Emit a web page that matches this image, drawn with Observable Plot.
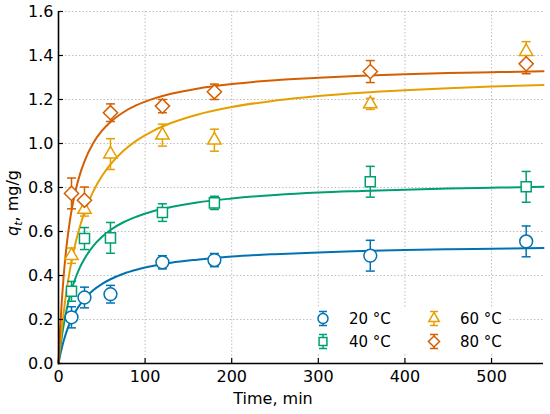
<!DOCTYPE html>
<html><head><meta charset="utf-8">
<script src="https://cdn.jsdelivr.net/npm/d3@7"></script>
<script src="https://cdn.jsdelivr.net/npm/@observablehq/plot@0.6"></script>
<style>body{margin:0;background:#fff}#chart{width:550px;height:414px}</style>
</head><body><div id="chart"></div>
<script>
// ---- data ----
const seriesLabels = ["20 °C", "40 °C", "60 °C", "80 °C"];
const colors = ["#0072B2", "#009E73", "#E69F00", "#D55E00"];
const symbolNames = ["circle", "square2", "triangle2", "diamond2"];

const times = [15, 30, 60, 120, 180, 360, 540];
const q20 = [0.21, 0.30, 0.315, 0.46, 0.47, 0.49, 0.555];
const e20 = [0.048, 0.047, 0.04, 0.03, 0.03, 0.07, 0.07];
const q40 = [0.328, 0.568, 0.571, 0.686, 0.73, 0.826, 0.803];
const e40 = [0.045, 0.05, 0.07, 0.04, 0.03, 0.07, 0.07];
const q60 = [0.49, 0.70, 0.952, 1.038, 1.015, 1.18, 1.418];
const e60 = [0.035, 0.03, 0.07, 0.05, 0.05, 0.025, 0.045];
const q80 = [0.773, 0.742, 1.14, 1.17, 1.235, 1.327, 1.362];
const e80 = [0.07, 0.06, 0.04, 0.03, 0.035, 0.05, 0.045];

// fitted curves
const fitT  = [0, 1, 2, 4, 6, 8, 10, 13, 16, 20, 25, 30, 40, 50, 60, 75, 90, 110, 130, 160, 200, 250, 300, 350, 400, 450, 500, 560];
const fit20 = [0, 0.020, 0.039, 0.073, 0.103, 0.129, 0.153, 0.183, 0.209, 0.239, 0.269, 0.294, 0.333, 0.361, 0.383, 0.408, 0.426, 0.444, 0.458, 0.472, 0.486, 0.497, 0.505, 0.511, 0.516, 0.519, 0.522, 0.525];
const fit40 = [0, 0.035, 0.068, 0.126, 0.175, 0.218, 0.256, 0.305, 0.346, 0.392, 0.439, 0.476, 0.534, 0.575, 0.607, 0.642, 0.667, 0.693, 0.711, 0.732, 0.750, 0.766, 0.777, 0.784, 0.790, 0.795, 0.799, 0.803];
const fit60 = [0, 0.046, 0.088, 0.166, 0.234, 0.295, 0.349, 0.421, 0.482, 0.553, 0.626, 0.687, 0.781, 0.851, 0.905, 0.967, 1.013, 1.059, 1.093, 1.131, 1.166, 1.195, 1.216, 1.231, 1.242, 1.251, 1.259, 1.266];
const fit80 = [0, 0.088, 0.166, 0.295, 0.400, 0.485, 0.557, 0.645, 0.716, 0.791, 0.863, 0.919, 1.001, 1.057, 1.098, 1.142, 1.174, 1.204, 1.226, 1.249, 1.270, 1.288, 1.299, 1.308, 1.315, 1.320, 1.324, 1.328];

const xTicks = [0, 100, 200, 300, 400, 500];
const yTicks = [0, 0.2, 0.4, 0.6, 0.8, 1.0, 1.2, 1.4, 1.6];

// ---- tables ----
const qs = [q20, q40, q60, q80], es = [e20, e40, e60, e80], fs = [fit20, fit40, fit60, fit80];
const points = [], fits = [];
seriesLabels.forEach((s, i) => {
  times.forEach((t, j) => points.push({series: s, t, q: qs[i][j], e: es[i][j]}));
  fitT.forEach((t, j) => fits.push({series: s, t, q: fs[i][j]}));
});

const capSymbol = {draw(ctx, size) { const w = Math.sqrt(size / Math.PI); ctx.moveTo(-w, 0); ctx.lineTo(w, 0); }};
const grid = {stroke: "#b8b8b8", strokeOpacity: 1, strokeDasharray: "1.5,2", strokeWidth: 0.9};

const chart = Plot.plot({
  width: 550, height: 414,
  marginLeft: 58, marginRight: 7, marginTop: 11, marginBottom: 51,
  x: {domain: [0, 560]},
  y: {domain: [0, 1.6]},
  color: {domain: seriesLabels, range: colors},
  symbol: {domain: seriesLabels, range: symbolNames},
  style: {fontFamily: "DejaVu Sans", fontSize: "16px", color: "#000", background: "#fff"},
  marks: [
    Plot.gridX(xTicks, grid),
    Plot.gridY(yTicks, grid),
    Plot.line(fits, {x: "t", y: "q", stroke: "series", strokeWidth: 2, curve: "monotone-x"}),
    Plot.ruleX(points, {x: "t", y1: d => d.q - d.e, y2: d => d.q + d.e, stroke: "series", strokeWidth: 1.5}),
    Plot.dot(points, {x: "t", y: d => d.q + d.e, symbol: capSymbol, r: 4.5, stroke: "series", fill: "none", strokeWidth: 1.5}),
    Plot.dot(points, {x: "t", y: d => d.q - d.e, symbol: capSymbol, r: 4.5, stroke: "series", fill: "none", strokeWidth: 1.5}),
    Plot.dot(points, {x: "t", y: "q", symbol: "series", stroke: "series", fill: "white", r: 6.4, strokeWidth: 1.5}),
    Plot.axisX(xTicks, {tickSize: 0, tickPadding: 7, label: null, fontSize: 16}),
    Plot.axisX(xTicks, {tickSize: 5, dy: -5, tickFormat: () => "", label: null, strokeWidth: 1.2}),
    Plot.axisY(yTicks, {tickSize: 0, tickPadding: 5, tickFormat: d3.format(".1f"), label: null, fontSize: 16}),
    Plot.axisY(yTicks, {tickSize: 5, dx: 5, tickFormat: () => "", label: null, strokeWidth: 1.2}),
    Plot.ruleX([0], {stroke: "#000", strokeWidth: 1.6}),
    Plot.ruleY([0], {stroke: "#000", strokeWidth: 1.6})
  ]
});
document.getElementById("chart").append(chart);

const svg = d3.select(chart);
// axis titles
svg.append("text").attr("x", 273).attr("y", 404).attr("text-anchor", "middle")
  .attr("font-family", "DejaVu Sans").attr("font-size", 16).attr("fill", "#000").text("Time, min");
const yl = svg.append("text").attr("transform", "translate(18,203) rotate(-90)").attr("text-anchor", "middle")
  .attr("font-family", "DejaVu Sans").attr("font-size", 16).attr("fill", "#000");
yl.append("tspan").attr("font-style", "italic").text("q");
yl.append("tspan").attr("font-style", "italic").attr("font-size", 11).attr("dy", 4).text("t");
yl.append("tspan").attr("dy", -4).text(", mg/g");

// legend
const symTypes = {circle: d3.symbolCircle, square2: d3.symbolSquare2, triangle2: d3.symbolTriangle2, diamond2: d3.symbolDiamond2};
const lg = svg.append("g");
lg.append("rect").attr("x", 312).attr("y", 307).attr("width", 197).attr("height", 47).attr("fill", "#fff");
seriesLabels.forEach((s, i) => {
  const col = Math.floor(i / 2), row = i % 2;
  const mx = [323, 434][col], my = [318.5, 341.5][row];
  const g = lg.append("g").attr("transform", `translate(${mx},${my})`).attr("stroke", colors[i]).attr("stroke-width", 1.5).attr("fill", "none");
  g.append("line").attr("x1", 0).attr("x2", 0).attr("y1", -7).attr("y2", 7);
  g.append("line").attr("x1", -4).attr("x2", 4).attr("y1", -7).attr("y2", -7);
  g.append("line").attr("x1", -4).attr("x2", 4).attr("y1", 7).attr("y2", 7);
  g.append("path").attr("d", d3.symbol(symTypes[symbolNames[i]], Math.PI * 5 * 5)()).attr("fill", "#fff");
  lg.append("text").attr("x", mx + 26).attr("y", my).attr("dy", "0.35em").attr("text-anchor", "start")
    .attr("font-family", "DejaVu Sans").attr("font-size", 15).attr("fill", "#000").text(s);
});
</script>
</body></html>
